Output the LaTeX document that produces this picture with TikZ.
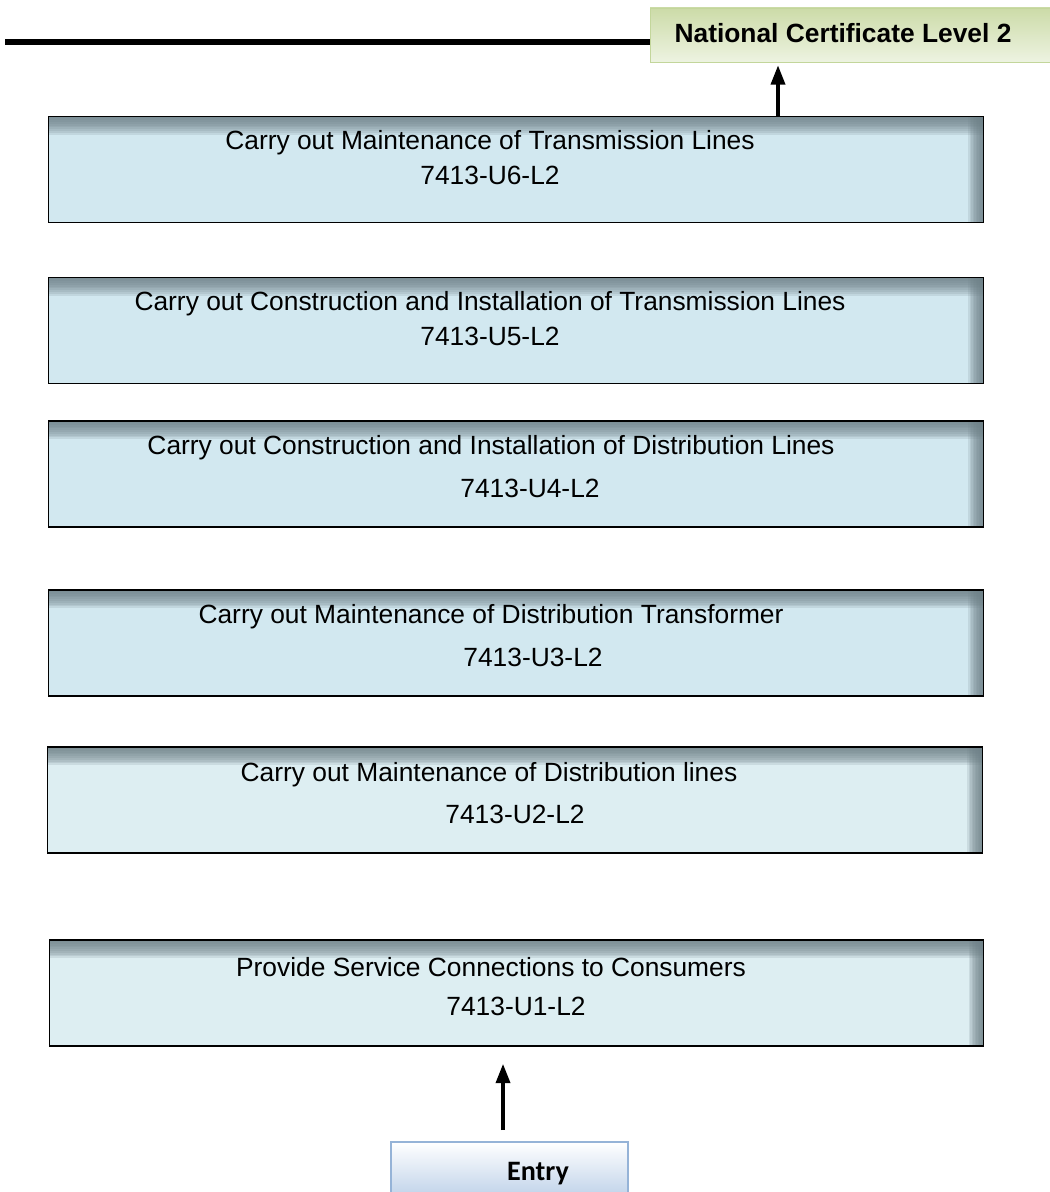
\documentclass[tikz,border=0pt]{standalone}
\usepackage{fontspec}
\setmainfont{Liberation Sans}
\newfontfamily\entryfont{Carlito}
\usetikzlibrary{arrows.meta,calc}
\definecolor{unitfill}{HTML}{D2E8F0}
\definecolor{unitfilllight}{HTML}{DDEEF2}
\definecolor{unitedge}{HTML}{6F8188}
\definecolor{certtop}{HTML}{CCDBA8}
\definecolor{certbottom}{HTML}{EDF3E1}
\definecolor{certborder}{HTML}{C3D69B}
\definecolor{entrybottom}{HTML}{BCD0E8}
\definecolor{entryborder}{HTML}{95B3D7}
\tikzset{
  unitbox/.style={fill=#1, minimum width=18.68cm, minimum height=2.1cm, inner sep=0pt},
  unitbox/.default=unitfill,
  unitshadow/.style={fill=unitedge, opacity=0.17},
  unittext/.style={font=\fontsize{15}{18}\selectfont, inner sep=0pt},
  uparrow/.style={line width=2pt, -{Triangle[width=8pt,length=11pt]}},
}
\begin{document}
\begin{tikzpicture}[x=0.02cm,y=-0.02cm]
  \useasboundingbox (0,0) rectangle (1050,1192);
  % qualification and entry
  \node[draw=certborder, top color=certtop, bottom color=certbottom,
        minimum width=8.2cm, minimum height=1.08cm] at (855,35) (ncl) {};
  \node[unittext, font=\fontsize{15}{18}\selectfont\bfseries] at (843,33) {National Certificate Level 2};
  \node[draw=entryborder, line width=1pt, top color=white, bottom color=entrybottom,
        minimum width=4.74cm, minimum height=1.16cm] at (509.5,1171) (entry) {};
  \node[inner sep=0pt, font=\fontsize{16}{19}\selectfont\entryfont\bfseries] at (538,1174) {Entry};
  % units
  \node[unitbox] at (516,169.5) (u6) {};
  \node[unitbox] at (516,330.5) (u5) {};
  \node[unitbox] at (516,474) (u4) {};
  \node[unitbox] at (516,643) (u3) {};
  \node[unitbox=unitfilllight] at (515,800) (u2) {};
  \node[unitbox=unitfilllight] at (516.5,993) (u1) {};
  \foreach \u in {u6,u5,u4,u3,u2,u1} {
    \foreach \k in {1,...,10} {
      \path[unitshadow] (\u.north west) rectangle ([yshift=-\k*0.036cm]\u.north east);
      \path[unitshadow] ([xshift=-\k*0.03cm]\u.north east) rectangle (\u.south east);
    }
    \draw[line width=0.8pt] (\u.north west) rectangle (\u.south east);
  }
  \node[unittext] at (490,143) {Carry out Maintenance of Transmission Lines};
  \node[unittext] at (490,175) {7413-U6-L2};
  \node[unittext] at (490,304) {Carry out Construction and Installation of Transmission Lines};
  \node[unittext] at (490,336) {7413-U5-L2};
  \node[unittext] at (491,448) {Carry out Construction and Installation of Distribution Lines};
  \node[unittext] at (530,488) {7413-U4-L2};
  \node[unittext] at (491,617) {Carry out Maintenance of Distribution Transformer};
  \node[unittext] at (533,657) {7413-U3-L2};
  \node[unittext] at (489,775) {Carry out Maintenance of Distribution lines};
  \node[unittext] at (515,814) {7413-U2-L2};
  \node[unittext] at (491,967) {Provide Service Connections to Consumers};
  \node[unittext] at (516,1006) {7413-U1-L2};
  % lines
  \coordinate (linestart) at (5,42);
  \draw[line width=3.4pt] (linestart) -- (linestart -| ncl.west);
  \draw[uparrow] ($(u6.north)+(262,0)$) -- ($(ncl.south)+(-77,3)$);
  \draw[uparrow] ($(entry.north)+(-6.5,-11)$) -- ($(u1.south)+(-13.5,18)$);
\end{tikzpicture}
\end{document}
